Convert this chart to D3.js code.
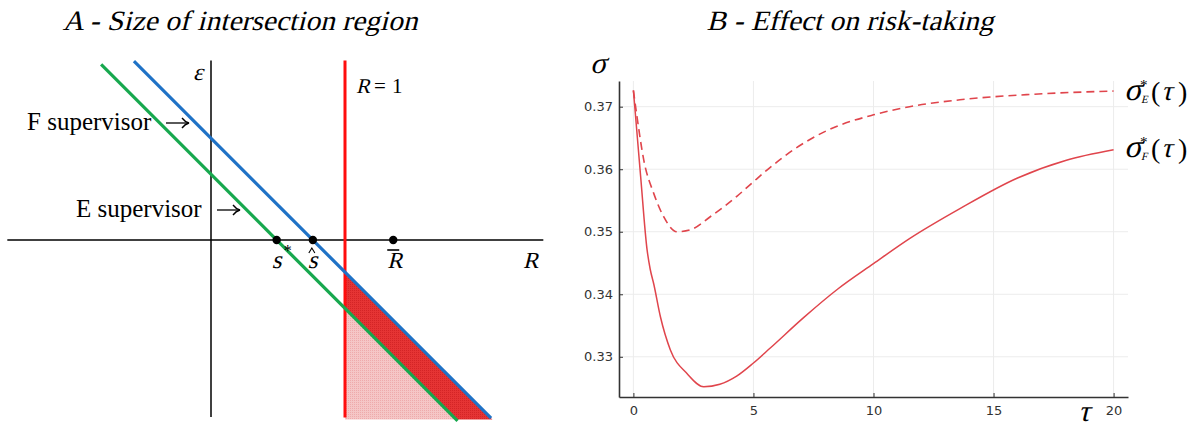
<!DOCTYPE html>
<html>
<head>
<meta charset="utf-8">
<script src="https://cdn.jsdelivr.net/npm/d3@7/dist/d3.min.js"></script>
<style>
  body { margin: 0; background: #fff; }
  svg { display: block; }
  .serif { font-family: "Liberation Serif", "Times New Roman", "DejaVu Serif", serif; }
  .tick text { font-family: "DejaVu Sans", sans-serif; }
</style>
</head>
<body>
<svg width="1201" height="428"></svg>
<script>
// ---- panel A: geometry (in R / epsilon units)
var sStar = 0.49, sHat = 0.76, rBar = 1.36, rOne = 1;
var rAxis = [-1.52, 2.48], eAxis = [-1.32, 1.34];
var greenR = [-0.82, 1.84], blueR = [-0.575, 2.09];
var eBottom = -1.34;

// ---- panel B: sigma*(tau)
var tauF = [0, 0.3, 0.57, 0.7, 0.85, 1.125, 1.54, 2.24, 2.93, 3.6, 4.3, 5.0, 5.7, 7.1, 8.5, 10, 11.5, 13.6, 16, 18, 20];
var sigF = [0.3726, 0.3589, 0.3471, 0.3440, 0.3416, 0.3364, 0.3311, 0.3273, 0.3252, 0.3256, 0.3269, 0.3290, 0.3314, 0.3363, 0.3408, 0.3449, 0.3489, 0.3537, 0.3586, 0.3614, 0.3631];
var tauE = [0, 0.15, 0.43, 0.85, 1.26, 1.82, 2.37, 3.2, 4.32, 5.0, 5.7, 6.7, 8.07, 10, 11.5, 13.6, 16.7, 20];
var sigE = [0.3726, 0.3684, 0.3615, 0.3561, 0.3524, 0.3500, 0.3503, 0.3524, 0.3557, 0.3580, 0.3603, 0.3632, 0.3662, 0.3687, 0.3700, 0.3711, 0.3720, 0.3725];
var xTicks = [0, 5, 10, 15, 20];
var yTicks = [0.33, 0.34, 0.35, 0.36, 0.37];

var svg = d3.select("svg");
var lineRed = "#e0454c";

// italic look: upright serif slanted by a skew
function itext(parent, x, y, txt, size, anchor) {
  return parent.append("g").attr("transform", "translate(" + x + "," + y + ") skewX(-14)")
    .append("text").attr("class", "serif").attr("font-size", size)
    .attr("text-anchor", anchor || "start").text(txt);
}
function rtext(parent, x, y, txt, size) {
  return parent.append("text").attr("class", "serif").attr("x", x).attr("y", y)
    .attr("font-size", size).text(txt);
}

// titles
itext(svg, 240, 30, "A - Size of intersection region", 28, "middle")
  .attr("textLength", 355).attr("lengthAdjust", "spacingAndGlyphs");
itext(svg, 850, 30, "B - Effect on risk-taking", 28, "middle")
  .attr("textLength", 287).attr("lengthAdjust", "spacingAndGlyphs");

// ================= panel A
var xA = d3.scaleLinear().domain([0, 1]).range([211, 345]);
var yA = d3.scaleLinear().domain([0, 1]).range([240, 106]);

var defs = svg.append("defs");
function dots(id, base, dot) {
  var p = defs.append("pattern").attr("id", id).attr("patternUnits", "userSpaceOnUse")
    .attr("width", 2).attr("height", 2);
  p.append("rect").attr("width", 2).attr("height", 2).attr("fill", base);
  p.append("rect").attr("width", 1).attr("height", 1).attr("fill", dot);
}
dots("darkFill", "#e53434", "#d42426");
dots("pinkFill", "#f5c6c6", "#eeaaab");

var A = svg.append("g");
var pt = function (r, e) { return [xA(r), yA(e)]; };

// shaded regions
A.append("polygon").attr("fill", "url(#pinkFill)")
  .attr("points", [pt(rOne, sStar - rOne), pt(rOne, eBottom), pt(sStar - eBottom, eBottom)].join(" "));
A.append("polygon").attr("fill", "url(#darkFill)")
  .attr("points", [pt(rOne, sHat - rOne), pt(rOne, sStar - rOne), pt(sStar - eBottom, eBottom), pt(sHat - eBottom, eBottom)].join(" "));

// axes
A.append("line").attr("x1", xA(rAxis[0])).attr("x2", xA(rAxis[1])).attr("y1", yA(0)).attr("y2", yA(0))
  .attr("stroke", "#000").attr("stroke-width", 1.5);
A.append("line").attr("x1", xA(0)).attr("x2", xA(0)).attr("y1", yA(eAxis[1])).attr("y2", yA(eAxis[0]))
  .attr("stroke", "#000").attr("stroke-width", 1.5);

// R = 1
A.append("line").attr("x1", xA(rOne)).attr("x2", xA(rOne)).attr("y1", yA(eAxis[1])).attr("y2", yA(eBottom + 0.015))
  .attr("stroke", "#ff0d0d").attr("stroke-width", 3);

// supervisor lines
A.append("line").attr("x1", xA(greenR[0])).attr("y1", yA(sStar - greenR[0]))
  .attr("x2", xA(greenR[1])).attr("y2", yA(sStar - greenR[1]))
  .attr("stroke", "#17a84e").attr("stroke-width", 3.2);
A.append("line").attr("x1", xA(blueR[0])).attr("y1", yA(sHat - blueR[0]))
  .attr("x2", xA(blueR[1])).attr("y2", yA(sHat - blueR[1]))
  .attr("stroke", "#1f72c6").attr("stroke-width", 3.2);

// points
[sStar, sHat, rBar].forEach(function (r) {
  A.append("circle").attr("cx", xA(r)).attr("cy", yA(0)).attr("r", 4.2).attr("fill", "#000");
});

// labels
function arrow(x0, x1, yy) {
  A.append("line").attr("x1", x0).attr("x2", x1 - 1).attr("y1", yy).attr("y2", yy)
    .attr("stroke", "#000").attr("stroke-width", 1.3);
  A.append("path").attr("d", "M" + (x1 - 7) + "," + (yy - 5) + " Q" + (x1 - 4) + "," + (yy - 1) + " " + x1 + "," + yy +
      " Q" + (x1 - 4) + "," + (yy + 1) + " " + (x1 - 7) + "," + (yy + 5))
    .attr("fill", "none").attr("stroke", "#000").attr("stroke-width", 1.3);
}
itext(A, 193, 80, "ε", 24);
itext(A, 356, 93, "R", 21);
rtext(A, 374, 93, "=", 21);
rtext(A, 392, 93, "1", 21);
rtext(A, 27, 130, "F supervisor", 25);
arrow(166, 189, 123);
rtext(A, 76, 217, "E supervisor", 25);
arrow(217, 240, 210);
itext(A, xA(sStar) - 5, 268, "s", 25);
rtext(A, xA(sStar) + 7, 256, "*", 16);
itext(A, xA(sHat) - 5, 268, "s", 25);
A.append("path").attr("d", "M" + (xA(sHat) - 4) + ",253 L" + (xA(sHat) - 1) + ",248 L" + (xA(sHat) + 2) + ",253")
  .attr("fill", "none").attr("stroke", "#000").attr("stroke-width", 1.1);
itext(A, xA(rBar) - 6, 268, "R", 23);
A.append("line").attr("x1", xA(rBar) - 6).attr("x2", xA(rBar) + 6).attr("y1", 250).attr("y2", 250)
  .attr("stroke", "#000").attr("stroke-width", 1.6);
itext(A, 523, 268, "R", 23);

// ================= panel B
var x = d3.scaleLinear().domain([-0.6, 20.6]).range([619, 1128]);
var y = d3.scaleLinear().domain([0.32357, 0.37411]).range([397, 81]);
var B = svg.append("g");

// grid
B.selectAll(".gx").data(xTicks).enter().append("line")
  .attr("x1", function (d) { return x(d); }).attr("x2", function (d) { return x(d); })
  .attr("y1", y.range()[0]).attr("y2", y.range()[1])
  .attr("stroke", "#ececec").attr("stroke-width", 1);
B.selectAll(".gy").data(yTicks).enter().append("line")
  .attr("x1", x.range()[0]).attr("x2", x.range()[1])
  .attr("y1", function (d) { return y(d); }).attr("y2", function (d) { return y(d); })
  .attr("stroke", "#ececec").attr("stroke-width", 1);

// axes
var gx = B.append("g").attr("transform", "translate(0,397)")
  .call(d3.axisBottom(x).tickValues(xTicks).tickSizeInner(-4).tickSizeOuter(0).tickPadding(9));
var gy = B.append("g").attr("transform", "translate(619,0)")
  .call(d3.axisLeft(y).tickValues(yTicks).tickFormat(d3.format(".2f")).tickSizeInner(-4).tickSizeOuter(0).tickPadding(6));
[gx, gy].forEach(function (g) {
  g.select(".domain").attr("stroke", "#333").attr("stroke-width", 1.6);
  g.selectAll(".tick line").attr("stroke", "#333");
  g.selectAll(".tick text").attr("font-size", 13).attr("fill", "#333");
});

// curves
var line = d3.line().curve(d3.curveMonotoneX)
  .x(function (d) { return x(d[0]); }).y(function (d) { return y(d[1]); });
B.append("path").datum(d3.zip(tauF, sigF)).attr("d", line)
  .attr("fill", "none").attr("stroke", lineRed).attr("stroke-width", 1.5);
B.append("path").datum(d3.zip(tauE, sigE)).attr("d", line)
  .attr("fill", "none").attr("stroke", lineRed).attr("stroke-width", 1.6)
  .attr("stroke-dasharray", "8,5");

// axis symbols
itext(B, 590, 73, "σ", 30);
itext(B, 1078, 421, "τ", 30);

// curve labels
function curveLabel(yb, sub) {
  var t = B.append("g");
  itext(t, 1124, yb, "σ", 32);
  rtext(t, 1140, yb - 10, "*", 15);
  itext(t, 1141, yb + 3, sub, 11);
  rtext(t, 1151, yb + 1, "(", 28);
  itext(t, 1161, yb, "τ", 28);
  rtext(t, 1178, yb + 1, ")", 28);
}
curveLabel(100, "E");
curveLabel(157, "F");
</script>
</body>
</html>
